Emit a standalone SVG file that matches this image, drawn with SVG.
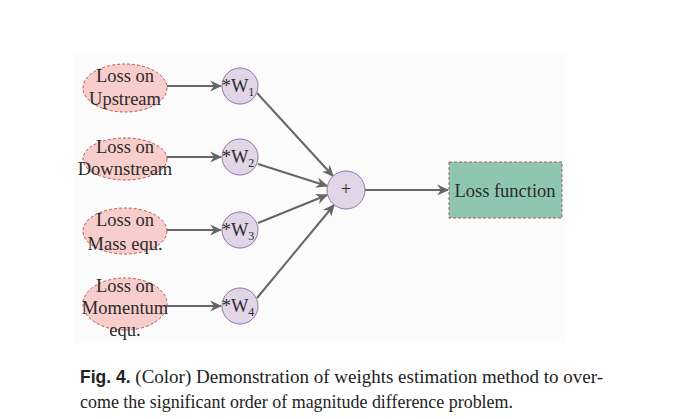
<svg xmlns="http://www.w3.org/2000/svg" width="689" height="419" viewBox="0 0 689 419">
<style>
.ell{fill:#f8cecc;stroke:#b85450;stroke-width:1;stroke-dasharray:3 2}
.cir{fill:#e1d5e7;stroke:#9673a6;stroke-width:1}
.box{fill:#8fc6b2;stroke:#a0605a;stroke-width:1;stroke-dasharray:3 2}
.t{font-family:"Liberation Serif","Times New Roman",serif;font-size:18.5px;fill:#2a2a2a;text-anchor:middle}
.c{font-family:"Liberation Serif","Times New Roman",serif;font-size:19px;fill:#222}
.cb{font-family:"Liberation Sans",Arial,sans-serif;font-size:17.5px;font-weight:bold;fill:#222}
.e{stroke:#666;stroke-width:2;fill:none;marker-end:url(#ah)}
</style>
<defs>
<marker id="ah" viewBox="0 0 10 10" refX="9" refY="5" markerWidth="6" markerHeight="6" orient="auto" markerUnits="strokeWidth">
<path d="M0,0.5 L10,5 L0,9.5 L3,5 Z" fill="#666"/>
</marker>
</defs>
<rect x="73" y="54" width="492" height="289" fill="#fbfbfb"/>
<g id="connectors">
<line class="e" x1="167" y1="86" x2="221" y2="86"/>
<line class="e" x1="167" y1="157" x2="221" y2="157"/>
<line class="e" x1="167" y1="230" x2="221" y2="230"/>
<line class="e" x1="167" y1="306" x2="221" y2="306"/>
<line class="e" x1="257" y1="93" x2="333" y2="176"/>
<line class="e" x1="258" y1="164" x2="327" y2="186"/>
<line class="e" x1="258" y1="223" x2="327" y2="195"/>
<line class="e" x1="257" y1="298" x2="334" y2="205"/>
<line class="e" x1="365" y1="190" x2="448" y2="190"/>
</g>
<g id="n1">
<ellipse class="ell" cx="125" cy="88" rx="42" ry="24"/>
<text class="t" x="125" y="82">Loss on</text>
<text class="t" x="125" y="105">Upstream</text>
</g>
<g id="n2">
<ellipse class="ell" cx="125" cy="159" rx="42" ry="21"/>
<text class="t" x="125" y="153">Loss on</text>
<text class="t" x="125" y="175">Downstream</text>
</g>
<g id="n3">
<ellipse class="ell" cx="125" cy="231" rx="42" ry="23"/>
<text class="t" x="125" y="226">Loss on</text>
<text class="t" x="125" y="250">Mass equ.</text>
</g>
<g id="n4">
<ellipse class="ell" cx="125" cy="304" rx="42" ry="26"/>
<text class="t" x="125" y="292">Loss on</text>
<text class="t" x="125" y="314">Momentum</text>
<text class="t" x="125" y="336">equ.</text>
</g>
<g id="w1">
<circle class="cir" cx="240" cy="86" r="18"/>
<text class="t" x="238" y="92">*W<tspan font-size="12" dy="4">1</tspan></text>
</g>
<g id="w2">
<circle class="cir" cx="240" cy="157" r="18"/>
<text class="t" x="238" y="163">*W<tspan font-size="12" dy="4">2</tspan></text>
</g>
<g id="w3">
<circle class="cir" cx="240" cy="230" r="18"/>
<text class="t" x="238" y="236">*W<tspan font-size="12" dy="4">3</tspan></text>
</g>
<g id="w4">
<circle class="cir" cx="240" cy="306" r="18"/>
<text class="t" x="238" y="312">*W<tspan font-size="12" dy="4">4</tspan></text>
</g>
<g id="plus">
<circle class="cir" cx="346" cy="190" r="19"/>
<text class="t" x="346" y="195" font-size="15">+</text>
</g>
<g id="loss">
<rect class="box" x="449" y="162" width="113" height="56"/>
<text class="t" x="505" y="197">Loss function</text>
</g>
<text x="80" y="383"><tspan class="cb">Fig. 4.</tspan><tspan class="c"> (Color) Demonstration of weights estimation method to over-</tspan></text>
<text class="c" x="80" y="408" textLength="433" lengthAdjust="spacingAndGlyphs">come the significant order of magnitude difference problem.</text>
</svg>
